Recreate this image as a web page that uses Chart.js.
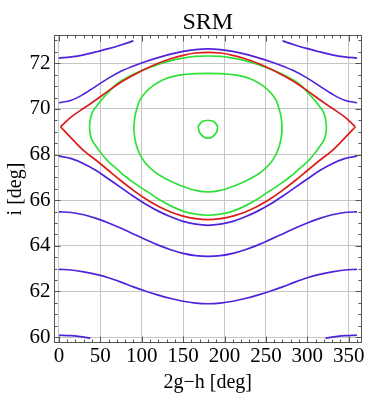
<!DOCTYPE html>
<html>
<head>
<title>SRM</title>
<script src="https://cdn.jsdelivr.net/npm/chart.js@4"></script>
<style>
  body { margin: 0; background: #fff; }
  canvas { display: block; }
</style>
</head>
<body>
<canvas id="srm" width="377" height="399"></canvas>
<script>
// tick labels
const xTicks = [0, 50, 100, 150, 200, 250, 300, 350];
const yTicks = [60, 62, 64, 66, 68, 70, 72];

// curves that are a function of 2g-h
const xGrid = [0, 15, 30, 45, 60, 75, 90, 105, 120, 135, 150, 165, 180, 195, 210, 225, 240, 255, 270, 285, 300, 315, 330, 345, 360];
const blueHigh = [70.27, 70.38, 70.65, 71.0, 71.35, 71.65, 71.88, 72.08, 72.25, 72.4, 72.52, 72.6, 72.63, 72.6, 72.52, 72.4, 72.25, 72.08, 71.88, 71.65, 71.35, 71.0, 70.65, 70.38, 70.27];
const blueLow = [67.93, 67.82, 67.6, 67.3, 66.93, 66.55, 66.17, 65.82, 65.52, 65.27, 65.07, 64.95, 64.9, 64.95, 65.07, 65.27, 65.52, 65.82, 66.17, 66.55, 66.93, 67.3, 67.6, 67.82, 67.93];
const blue65 = [65.49, 65.46, 65.36, 65.2, 65.0, 64.77, 64.52, 64.27, 64.03, 63.83, 63.67, 63.57, 63.54, 63.57, 63.67, 63.83, 64.03, 64.27, 64.52, 64.77, 65.0, 65.2, 65.36, 65.46, 65.49];
const blue63 = [62.97, 62.94, 62.86, 62.75, 62.6, 62.41, 62.2, 62.01, 61.84, 61.69, 61.57, 61.49, 61.46, 61.49, 61.57, 61.69, 61.84, 62.01, 62.2, 62.41, 62.6, 62.75, 62.86, 62.94, 62.97];

// separatrix (red), cusps near 0 and 360
const xRed = [2, 15, 30, 45, 60, 75, 90, 105, 120, 135, 150, 165, 180, 195, 210, 225, 240, 255, 270, 285, 300, 315, 330, 345, 358];
const redUpper = [69.22, 69.65, 70.03, 70.4, 70.8, 71.17, 71.48, 71.76, 72.0, 72.2, 72.35, 72.45, 72.48, 72.45, 72.35, 72.2, 72.0, 71.76, 71.48, 71.17, 70.8, 70.4, 70.03, 69.65, 69.22];
const redLower = [69.22, 68.72, 68.17, 67.75, 67.3, 66.85, 66.43, 66.05, 65.73, 65.48, 65.3, 65.19, 65.15, 65.19, 65.3, 65.48, 65.73, 66.05, 66.43, 66.85, 67.3, 67.75, 68.17, 68.72, 69.22];

// short pieces cut by the plot edges
const xTopLeft = [0, 15, 30, 45, 60, 75, 90];
const yTopLeft = [72.23, 72.28, 72.37, 72.5, 72.64, 72.8, 72.98];
const xTopRight = [270, 285, 300, 315, 330, 345, 360];
const yTopRight = [72.98, 72.8, 72.64, 72.5, 72.37, 72.28, 72.23];
const xBotLeft = [0, 15, 30, 38];
const yBotLeft = [60.08, 60.06, 60.0, 59.95];
const xBotRight = [322, 330, 345, 360];
const yBotRight = [59.95, 60.0, 60.06, 60.08];

// closed (green) contours
const greenOuterX = [37, 38, 40.5, 45, 50, 57, 66, 75, 90, 105, 120, 135, 150, 165, 180, 195, 210, 225, 240, 255, 270, 285, 294, 303, 310, 315, 319.5, 322, 323,
  322, 319.5, 315, 310, 300, 290, 280, 270, 260, 250, 240, 225, 210, 195, 180, 165, 150, 135, 120, 110, 100, 90, 80, 70, 60, 50, 45, 40.5, 38, 37];
const greenOuterY = [69.2, 69.55, 69.85, 70.1, 70.33, 70.62, 70.97, 71.22, 71.52, 71.75, 71.95, 72.12, 72.23, 72.3, 72.32, 72.3, 72.23, 72.12, 71.95, 71.75, 71.52, 71.22, 70.97, 70.62, 70.33, 70.1, 69.85, 69.55, 69.2,
  68.85, 68.6, 68.35, 68.1, 67.68, 67.37, 67.05, 66.78, 66.53, 66.3, 66.05, 65.75, 65.52, 65.39, 65.34, 65.39, 65.52, 65.75, 66.05, 66.3, 66.53, 66.78, 67.05, 67.37, 67.68, 68.1, 68.35, 68.6, 68.85, 69.2];
const greenInnerX = [90.5, 91.5, 94, 98, 104, 113, 126, 142, 160, 180, 200, 218, 234, 247, 256, 262, 266, 268.5, 269.5,
  268.5, 266, 262, 256, 248, 238, 225, 210, 195, 180, 165, 150, 135, 122, 112, 104, 98, 94, 91.5, 90.5];
const greenInnerY = [69.15, 69.6, 70.0, 70.4, 70.7, 71.0, 71.28, 71.46, 71.54, 71.56, 71.54, 71.46, 71.28, 71.0, 70.7, 70.4, 70.0, 69.6, 69.15,
  68.75, 68.35, 68.0, 67.65, 67.35, 67.08, 66.83, 66.6, 66.43, 66.36, 66.43, 66.6, 66.83, 67.08, 67.35, 67.65, 68.0, 68.35, 68.75, 69.15];
const greenDotX = [180, 187, 191.5, 190.5, 185.5, 180, 174.5, 169.5, 168.5, 173, 180];
const greenDotY = [69.5, 69.45, 69.25, 68.98, 68.78, 68.72, 68.78, 68.98, 69.25, 69.45, 69.5];

const BLUE = '#4f22dc', RED = '#dd1c1c', GREEN = '#30e03a';
const serif = 'Liberation Serif, Times New Roman, serif';

const pts = (xs, ys) => xs.map((x, i) => ({ x, y: ys[i] }));
const curve = (xs, ys, color, tension = 0.35) => ({
  data: pts(xs, ys), showLine: true, borderColor: color, borderWidth: 1.7,
  pointRadius: 0, tension, fill: false
});

// frame with inward ticks on all four sides, like the original
const frameTicks = {
  id: 'frameTicks',
  afterDraw(chart) {
    const { ctx, chartArea: a, scales: { x, y } } = chart;
    const l = Math.round(a.left) + 0.5, r = Math.round(a.right) - 0.5;
    const t = Math.round(a.top) + 0.5, b = Math.round(a.bottom) - 0.5;
    ctx.save();
    ctx.strokeStyle = '#555';
    ctx.lineWidth = 1;
    ctx.beginPath();
    for (let v = 0; v <= 360; v += 10) {
      const px = Math.round(x.getPixelForValue(v)) + 0.5;
      const len = v % 50 === 0 ? 6 : 3;
      ctx.moveTo(px, b); ctx.lineTo(px, b - len);
      ctx.moveTo(px, t); ctx.lineTo(px, t + len);
    }
    for (let v = 60; v <= 73; v += 0.5) {
      const py = Math.round(y.getPixelForValue(v)) + 0.5;
      const len = v % 2 === 0 ? 6 : 3;
      ctx.moveTo(l, py); ctx.lineTo(l + len, py);
      ctx.moveTo(r, py); ctx.lineTo(r - len, py);
    }
    ctx.stroke();
    ctx.strokeRect(l, t, r - l, b - t);
    ctx.restore();
  }
};

new Chart(document.getElementById('srm'), {
  type: 'scatter',
  data: {
    datasets: [
      curve(xTopLeft, yTopLeft, BLUE),
      curve(xTopRight, yTopRight, BLUE),
      curve(xGrid, blueHigh, BLUE),
      curve(xGrid, blueLow, BLUE),
      curve(xGrid, blue65, BLUE),
      curve(xGrid, blue63, BLUE),
      curve(xBotLeft, yBotLeft, BLUE),
      curve(xBotRight, yBotRight, BLUE),
      curve(xRed, redUpper, RED),
      curve(xRed, redLower, RED),
      curve(greenOuterX, greenOuterY, GREEN, 0.25),
      curve(greenInnerX, greenInnerY, GREEN, 0.2),
      curve(greenDotX, greenDotY, GREEN, 0.15)
    ]
  },
  options: {
    responsive: false,
    animation: false,
    devicePixelRatio: 1,
    layout: { padding: { right: 15 } },
    plugins: { legend: { display: false }, tooltip: { enabled: false } },
    scales: {
      x: {
        type: 'linear', position: 'bottom', min: -6.5, max: 366,
        afterBuildTicks: s => { s.ticks = xTicks.map(v => ({ value: v })); },
        afterFit: s => { s.height = 56; },
        grid: { color: '#c6c6c6', drawTicks: false },
        border: { display: false },
        ticks: { padding: 1, color: '#000', maxRotation: 0, autoSkip: false, font: { family: serif, size: 21 } },
        title: { display: true, text: '2g\u2212h [deg]', color: '#000', padding: { top: 0, bottom: 4 }, font: { family: serif, size: 20 } }
      },
      xTop: {
        type: 'linear', position: 'top', min: -6.5, max: 366,
        afterFit: s => { s.height = 35; },
        grid: { display: false, drawTicks: false },
        border: { display: false },
        ticks: { display: false },
        title: { display: true, text: 'SRM', color: '#000', padding: { top: 8, bottom: 0 }, font: { family: serif, size: 24 } }
      },
      y: {
        type: 'linear', position: 'left', min: 59.74, max: 73.24,
        afterBuildTicks: s => { s.ticks = yTicks.map(v => ({ value: v })); },
        afterFit: s => { s.width = 53.5; },
        grid: { color: '#c6c6c6', drawTicks: false },
        border: { display: false },
        ticks: { padding: 3, color: '#000', font: { family: serif, size: 21 } },
        title: { display: true, text: 'i [deg]', color: '#000', padding: { top: 4, bottom: 0 }, font: { family: serif, size: 20 } }
      }
    }
  },
  plugins: [frameTicks]
});
</script>
</body>
</html>
